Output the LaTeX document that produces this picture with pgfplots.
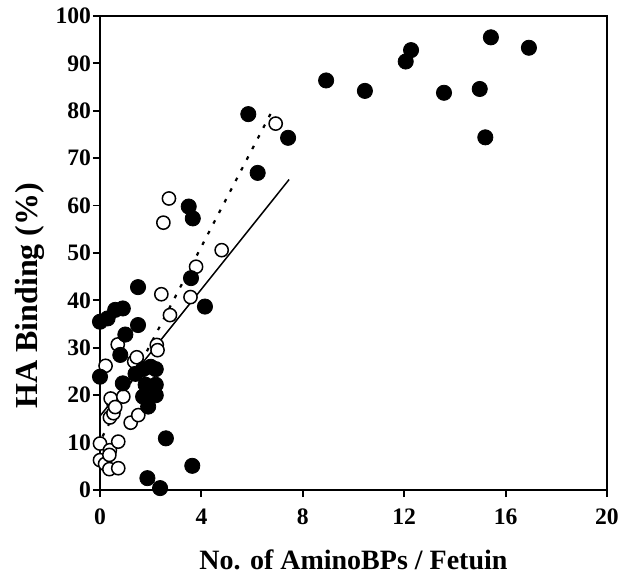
\documentclass[border=0pt]{standalone}
\usepackage{pgfplots}
\pgfplotsset{compat=1.18}
\usepackage{fontspec}
\setmainfont{Liberation Serif}
\begin{document}
\begin{tikzpicture}
\begin{axis}[
  scale only axis,
  width=253.5pt, height=237pt,
  xmin=0, xmax=20, ymin=0, ymax=100,
  xtick={0,4,...,20}, ytick={0,10,...,100},
  xtick pos=left, ytick pos=left,
  tick align=outside,
  major tick length=3.5pt,
  axis line style={line width=0.9pt},
  every tick/.style={line width=0.9pt, black},
  /pgf/number format/assume math mode=true,
  ticklabel style={font=\bfseries\fontsize{11.8}{13}\selectfont},
  xticklabel style={yshift=-2.5pt},
  yticklabel style={xshift=2.5pt},
  xlabel={No. of AminoBPs / Fetuin},
  ylabel={HA Binding (\%)},
  every axis x label/.style={at={(axis description cs:0.5,-0.148)}, anchor=center, font=\bfseries\fontsize{14}{16}\selectfont},
  every axis y label/.style={at={(axis description cs:-0.138,0.41)}, anchor=center, rotate=90, font=\bfseries\fontsize{16}{18}\selectfont},
]
% regression lines
\addplot[black, line width=0.75pt] coordinates {(0,15.6) (7.46,65.5)};
\addplot[black, line width=1.1pt, dash pattern=on 1.8pt off 4.2pt] coordinates {(0.1,11.3) (6.84,80.5)};
% open circles
\addplot[only marks, mark=*, mark size=3.3pt, mark options={fill=white, draw=black, line width=0.75pt}] coordinates {
(0,9.8) (0,6.3) (0.2,5.5) (0.37,4.4) (0.72,4.6) (0.39,8.4) (0.37,7.4) (0.72,10.2)
(0.39,15.3) (0.53,16.2) (0.53,18.3) (0.42,19.3) (0.92,19.7) (0.6,17.5) (1.21,14.2) (1.51,15.8)
(0.22,26.2) (1.35,27.1) (1.45,28.0) (0.7,30.7) (2.24,30.6) (2.27,29.5) (2.76,36.9)
(2.42,41.3) (3.57,40.7) (3.79,47.1) (4.8,50.6) (2.5,56.4) (2.72,61.5) (6.93,77.3)
};
% filled circles
\addplot[only marks, mark=*, mark size=3.8pt, mark options={fill=black, draw=black}] coordinates {
(0.0,23.9) (0.0,35.5) (0.3,36.2) (0.6,38.0) (0.9,38.3) (1.0,32.8) (0.8,28.5) (0.9,22.5)
(1.5,42.8) (1.5,34.8) (1.4,24.5) (1.7,25.5) (2.0,26.0) (2.2,25.5) (1.8,22.2) (2.2,22.2)
(1.7,19.7) (2.2,20.0) (1.9,17.6) (2.6,10.9) (3.64,5.1) (1.87,2.5) (2.37,0.4)
(3.5,59.8) (3.66,57.3) (3.59,44.7) (4.14,38.7) (5.85,79.3) (6.22,66.9) (7.42,74.3)
(8.92,86.4) (10.45,84.2) (12.06,90.4) (12.27,92.8) (13.57,83.8) (14.98,84.6) (15.2,74.4)
(15.42,95.5) (16.92,93.3)
};
\end{axis}
\pgfresetboundingbox
\path (-50pt,-44pt) rectangle (260.5pt,245pt);
\end{tikzpicture}
\end{document}
